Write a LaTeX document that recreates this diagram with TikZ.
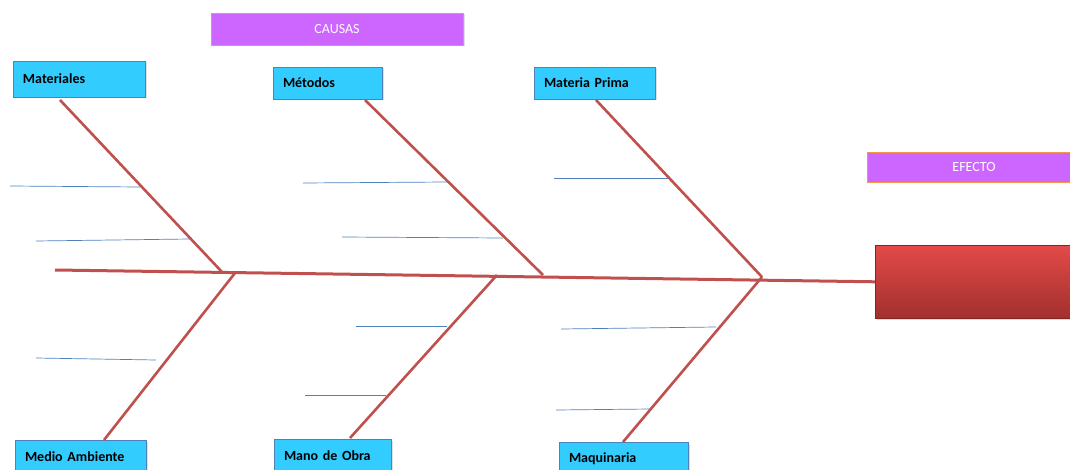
\documentclass[tikz,border=0pt]{standalone}
\usepackage{fontspec}
\setmainfont{Carlito}
\usetikzlibrary{shadows}
\definecolor{causefill}{HTML}{33CCFF}
\definecolor{causeedge}{HTML}{4F81BD}
\definecolor{headfill}{HTML}{CC66FF}
\definecolor{headedge}{HTML}{F79646}
\definecolor{bonered}{HTML}{C0504D}
\definecolor{effecttop}{HTML}{E24A48}
\definecolor{effectbot}{HTML}{A2302E}
\definecolor{subline}{HTML}{4F81BD}
\tikzset{
  cause/.style={draw=causeedge, line width=0.8pt, fill=causefill, rectangle,
    inner xsep=10pt, inner ysep=0pt, align=left, font=\bfseries\fontsize{14}{16}\selectfont,
    drop shadow={opacity=0.25, shadow xshift=1.5pt, shadow yshift=-1.5pt}},
  header/.style={draw=headedge, line width=0.8pt, fill=headfill, rectangle,
    text=white, font=\fontsize{14}{16}\selectfont,
    drop shadow={opacity=0.25, shadow xshift=1.5pt, shadow yshift=-1.5pt}},
  spine/.style={draw=bonered, line width=3pt},
  bone/.style={draw=bonered, line width=2.6pt},
  sub/.style={draw=subline, line width=0.7pt}
}
\begin{document}
\begin{tikzpicture}[x=1pt,y=-1pt]
\useasboundingbox (0,0) rectangle (1070,470);

% headings
\node[header, minimum width=252pt, minimum height=32pt] (causas) at (337,29) {CAUSAS};
\node[header, minimum width=214pt, minimum height=30pt] (efecto) at (974,167) {EFECTO};

% effect head
\node[rectangle, draw=effectbot!80!black, line width=0.6pt, top color=effecttop, bottom color=effectbot,
  minimum width=215pt, minimum height=73pt, anchor=north west,
  drop shadow={opacity=0.3, shadow xshift=1.5pt, shadow yshift=-1.5pt}] (head) at (875,245) {};

% cause boxes
\node[cause, text width=112pt, minimum height=36pt] (mat) at (79,79) {Materiales};
\node[cause, text width=89pt, minimum height=32pt] (met) at (327.5,83) {Métodos};
\node[cause, text width=101pt, minimum height=32pt] (mp) at (594.5,83) {Materia Prima};
\node[cause, text width=111pt, minimum height=34pt] (ma) at (80.5,457) {Medio Ambiente};
\node[cause, text width=97pt, minimum height=34pt] (mo) at (332.5,456) {Mano de Obra};
\node[cause, text width=109pt, minimum height=34pt] (mq) at (623.5,459) {Maquinaria};

% spine junctions
\coordinate (tail) at (55,270);
\coordinate (j1) at (222,272);
\coordinate (j2) at (235,273);
\coordinate (j3) at (497,275);
\coordinate (j4) at (543,275);
\coordinate (j5) at (762,277);

% bone ends at the boxes
\coordinate (matb) at (60,100);
\coordinate (metb) at (365,100);
\coordinate (mpb) at (596,100);
\coordinate (mab) at (104,440);
\coordinate (mob) at (350,438);
\coordinate (mqb) at (623,442);

% spine
\draw[spine] (tail) -- (head.west);

% main bones
\draw[bone] (matb) -- (j1);
\draw[bone] (metb) -- (j4);
\draw[bone] (mpb) -- (j5);
\draw[bone] (j2) -- (mab);
\draw[bone] (j3) -- (mob);
\draw[bone] (j5) -- (mqb);

% sub-cause lines
\coordinate (s1a) at (10,186);   \coordinate (s1b) at (140,187);
\coordinate (s2a) at (36,241);   \coordinate (s2b) at (190,239);
\coordinate (s3a) at (303,183);  \coordinate (s3b) at (447,182);
\coordinate (s4a) at (342,237);  \coordinate (s4b) at (503,238);
\coordinate (s5a) at (554,178);  \coordinate (s5b) at (668,178);
\coordinate (s6a) at (36,358);   \coordinate (s6b) at (156,360);
\coordinate (s7a) at (356,326);  \coordinate (s7b) at (447,326);
\coordinate (s8a) at (305,395);  \coordinate (s8b) at (386,395);
\coordinate (s9a) at (561,329);  \coordinate (s9b) at (716,327);
\coordinate (s10a) at (556,410); \coordinate (s10b) at (651,409);
\foreach \i in {1,...,10} { \draw[sub] (s\i a) -- (s\i b); }
\end{tikzpicture}
\end{document}
